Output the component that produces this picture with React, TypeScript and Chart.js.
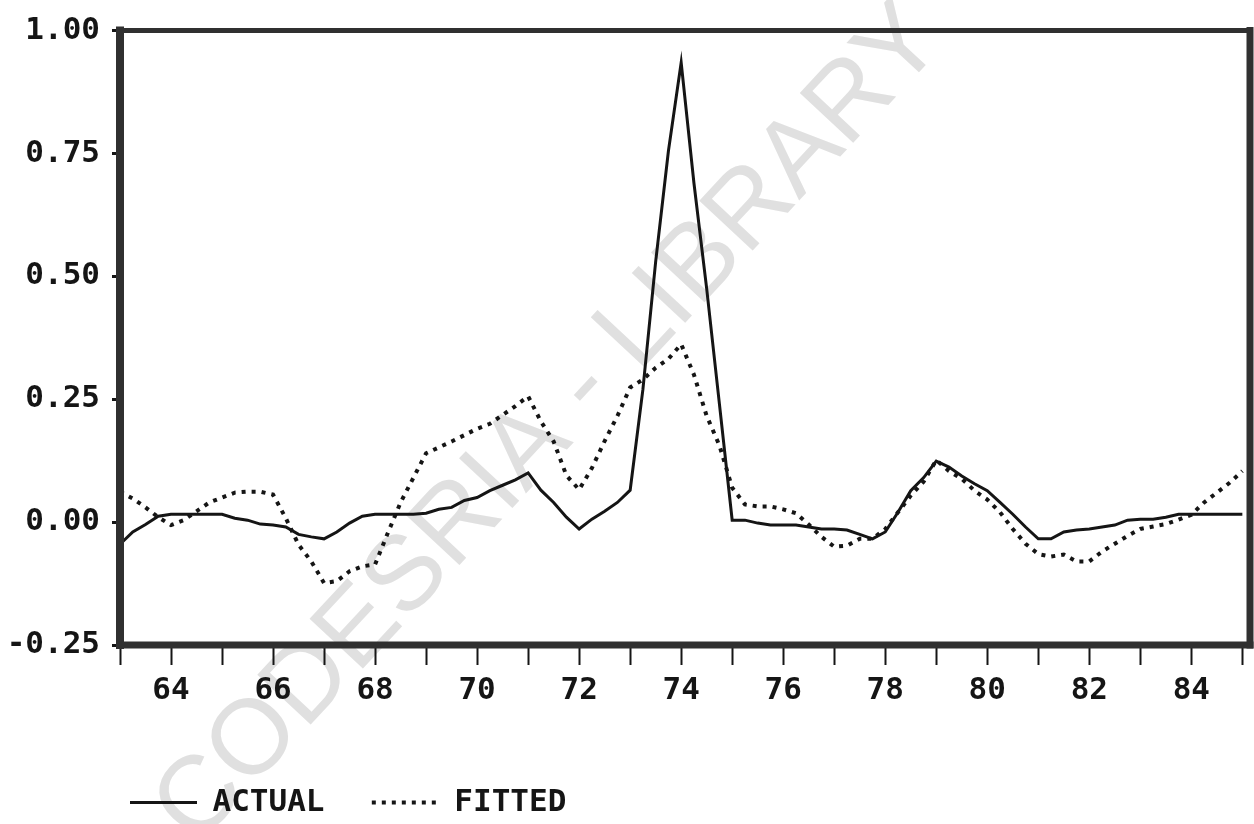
import React, { useEffect, useRef } from "react";
import { Chart, registerables } from "chart.js";

Chart.register(...registerables);

// Quarterly observations, 1963Q1 .. 1985Q1 (89 points)
const quarterYears: number[] = Array.from({ length: 89 }, (_, i) => 63 + i * 0.25);

const actualValues: number[] = [
  -0.045, -0.02, -0.005, 0.012,
  0.016, 0.016, 0.016, 0.016,
  0.016, 0.008, 0.004, -0.004,
  -0.006, -0.01, -0.025, -0.03,
  -0.034, -0.02, -0.002, 0.012,
  0.016, 0.016, 0.016, 0.016,
  0.018, 0.026, 0.03, 0.044,
  0.05, 0.064, 0.075, 0.086,
  0.1, 0.065, 0.04, 0.01,
  -0.014, 0.006, 0.022, 0.04,
  0.065, 0.27, 0.53, 0.755,
  0.935, 0.69, 0.475, 0.24,
  0.004, 0.004, -0.002, -0.006,
  -0.006, -0.006, -0.01, -0.014,
  -0.014, -0.016, -0.025, -0.034,
  -0.02, 0.02, 0.064, 0.09,
  0.124, 0.112, 0.094, 0.078,
  0.064, 0.04, 0.016, -0.01,
  -0.034, -0.034, -0.02, -0.016,
  -0.014, -0.01, -0.006, 0.004,
  0.006, 0.006, 0.01, 0.016,
  0.016, 0.016, 0.016, 0.016,
  0.016,
];

const fittedValues: number[] = [
  0.062, 0.048, 0.03, 0.01,
  -0.006, 0.004, 0.022, 0.04,
  0.05, 0.06, 0.062, 0.062,
  0.056, 0.008, -0.046, -0.08,
  -0.124, -0.12, -0.1, -0.09,
  -0.086, -0.022, 0.04, 0.09,
  0.14, 0.152, 0.164, 0.177,
  0.19, 0.2, 0.218, 0.236,
  0.256, 0.205, 0.164, 0.095,
  0.066, 0.11, 0.165, 0.216,
  0.274, 0.29, 0.314, 0.332,
  0.362, 0.3, 0.216, 0.156,
  0.07, 0.036, 0.032, 0.032,
  0.026, 0.018, -0.005, -0.03,
  -0.05, -0.048, -0.034, -0.034,
  -0.014, 0.02, 0.054, 0.082,
  0.126, 0.104, 0.088, 0.064,
  0.046, 0.02, -0.014, -0.044,
  -0.065, -0.07, -0.066, -0.08,
  -0.08, -0.06, -0.044, -0.028,
  -0.014, -0.009, -0.004, 0.005,
  0.015, 0.04, 0.06, 0.08,
  0.104,
];

const xTickYears: number[] = [63, 64, 65, 66, 67, 68, 69, 70, 71, 72, 73, 74, 75, 76, 77, 78, 79, 80, 81, 82, 83, 84, 85];
const xLabelYears: number[] = [64, 66, 68, 70, 72, 74, 76, 78, 80, 82, 84];
const yTickValues: number[] = [-0.25, 0, 0.25, 0.5, 0.75, 1.0];
const seriesNames: string[] = ["ACTUAL", "FITTED"];
const watermarkText = "CODESRIA - LIBRARY";

const FONT = "'DejaVu Sans Mono', 'Liberation Mono', monospace";
const INK = "#151515";

const framePlugin = {
  id: "frame",
  afterDatasetsDraw(chart: any) {
    const { ctx, chartArea } = chart;
    const { left, right, top, bottom } = chartArea;
    ctx.save();
    ctx.strokeStyle = "#303030";
    ctx.lineCap = "square";
    const side = (x1: number, y1: number, x2: number, y2: number, w: number) => {
      ctx.lineWidth = w;
      ctx.beginPath();
      ctx.moveTo(x1, y1);
      ctx.lineTo(x2, y2);
      ctx.stroke();
    };
    side(left, top, right, top, 5);
    side(left, top, left, bottom, 8);
    side(right, top, right, bottom, 7);
    side(left, bottom, right, bottom, 7);
    ctx.restore();
  },
};

const watermarkPlugin = {
  id: "watermark",
  beforeDraw(chart: any) {
    const { ctx } = chart;
    ctx.save();
    ctx.font = "100px 'Liberation Sans', Arial, sans-serif";
    const w100 = ctx.measureText(watermarkText).width;
    const size = (100 * 1100) / w100;
    ctx.font = `${size}px 'Liberation Sans', Arial, sans-serif`;
    ctx.fillStyle = "#e0e0e0";
    ctx.translate(550, 425);
    ctx.rotate((-47 * Math.PI) / 180);
    ctx.textAlign = "center";
    ctx.textBaseline = "middle";
    ctx.fillText(watermarkText, 0, 0);
    ctx.restore();
  },
};

export default function App() {
  const canvasRef = useRef<HTMLCanvasElement | null>(null);

  useEffect(() => {
    if (!canvasRef.current) return;
    const actualPoints = quarterYears.map((x, i) => ({ x, y: actualValues[i] }));
    const fittedPoints = quarterYears.map((x, i) => ({ x, y: fittedValues[i] }));

    const chart = new Chart(canvasRef.current, {
      type: "line",
      data: {
        datasets: [
          {
            label: seriesNames[0],
            data: actualPoints,
            borderColor: INK,
            borderWidth: 3,
            pointRadius: 0,
            tension: 0,
            fill: false,
          },
          {
            label: seriesNames[1],
            data: fittedPoints,
            borderColor: INK,
            borderWidth: 4,
            borderDash: [4, 6],
            borderCapStyle: "butt",
            pointRadius: 0,
            tension: 0,
            fill: false,
          },
        ],
      },
      options: {
        animation: false,
        responsive: false,
        maintainAspectRatio: false,
        events: [],
        layout: { padding: { top: 20, right: 4, bottom: 0, left: 0 } },
        plugins: {
          tooltip: { enabled: false },
          legend: {
            position: "bottom",
            align: "start",
            fullSize: false,
            labels: {
              color: INK,
              font: { family: FONT, size: 31, weight: "bold" },
              padding: 10,
              usePointStyle: true,
              pointStyleWidth: 67,
              boxHeight: 10,
              generateLabels: () => [
                {
                  text: seriesNames[0] + "  ",
                  fillStyle: "rgba(0,0,0,0)",
                  strokeStyle: INK,
                  lineWidth: 3,
                  lineDash: [],
                  pointStyle: "line",
                  hidden: false,
                  datasetIndex: 0,
                  fontColor: INK,
                },
                {
                  text: seriesNames[1],
                  fillStyle: "rgba(0,0,0,0)",
                  strokeStyle: INK,
                  lineWidth: 4,
                  lineDash: [4, 6],
                  pointStyle: "line",
                  hidden: false,
                  datasetIndex: 1,
                  fontColor: INK,
                },
              ],
            },
          },
        },
        scales: {
          x: {
            type: "linear",
            min: 63,
            max: 85.15,
            afterBuildTicks: (scale: any) => {
              scale.ticks = xTickYears.map((v) => ({ value: v }));
            },
            afterFit: (scale: any) => {
              scale.height = 132;
            },
            ticks: {
              autoSkip: false,
              maxRotation: 0,
              minRotation: 0,
              padding: 7,
              color: INK,
              font: { family: FONT, size: 31, weight: "bold" },
              callback: (v: any) => (xLabelYears.includes(Number(v)) ? String(v) : ""),
            },
            grid: {
              drawOnChartArea: false,
              drawTicks: true,
              tickLength: 20,
              tickWidth: 2,
              tickColor: INK,
            },
            border: { display: false },
          },
          y: {
            type: "linear",
            min: -0.25,
            max: 1.0,
            afterBuildTicks: (scale: any) => {
              scale.ticks = yTickValues.map((v) => ({ value: v }));
            },
            afterFit: (scale: any) => {
              scale.width = 120;
            },
            ticks: {
              padding: 12,
              color: INK,
              font: { family: FONT, size: 31, weight: "bold" },
              callback: (v: any) => Number(v).toFixed(2),
            },
            grid: {
              drawOnChartArea: false,
              drawTicks: true,
              tickLength: 8,
              tickWidth: 3,
              tickColor: INK,
            },
            border: { display: false },
          },
        },
      },
      plugins: [watermarkPlugin, framePlugin],
    } as any);

    return () => {
      chart.destroy();
    };
  }, []);

  return (
    <div style={{ position: "fixed", left: 0, top: 0, width: 1254, height: 828, background: "#ffffff", overflow: "hidden" }}>
      <canvas ref={canvasRef} width={1254} height={828} style={{ display: "block", width: 1254, height: 828 }} />
    </div>
  );
}
